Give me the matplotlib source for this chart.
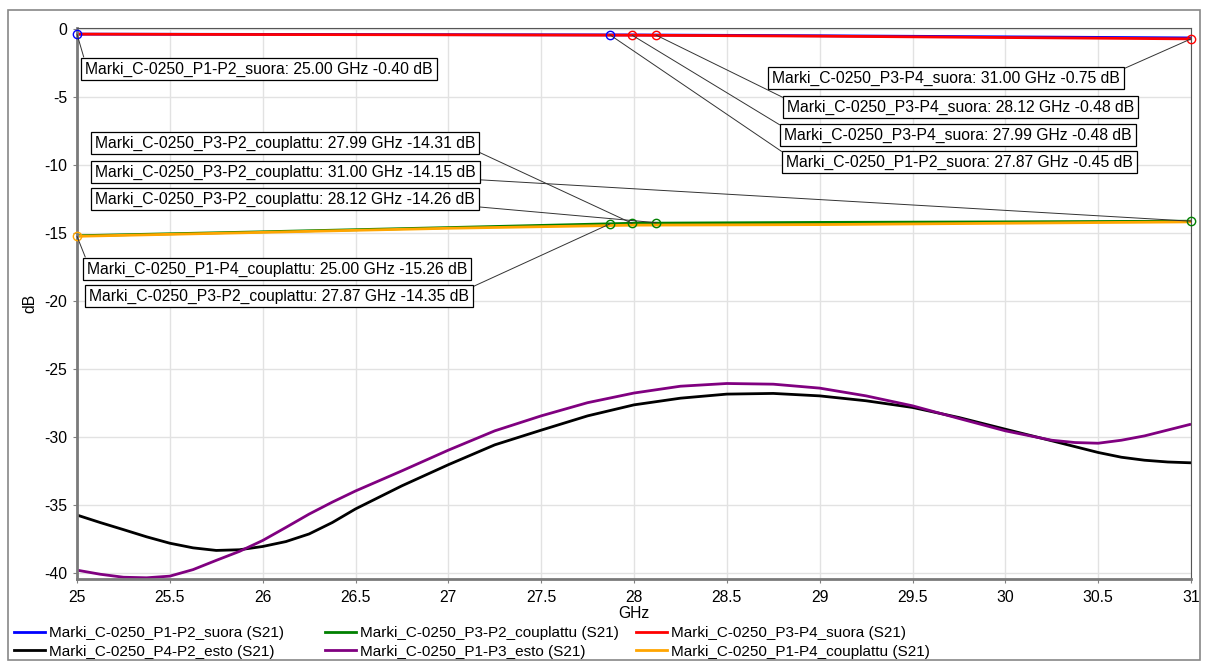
import matplotlib
matplotlib.use("Agg")
import matplotlib.pyplot as plt
from matplotlib.patches import Rectangle
from matplotlib.lines import Line2D

plt.rcParams['font.family'] = ['Liberation Sans', 'DejaVu Sans']
plt.rcParams['font.size'] = 11
plt.rcParams['axes.unicode_minus'] = False

# measured S21 traces (GHz, dB)
freq_flat = [25, 26, 27, 28, 29, 30, 31]
p1p2_suora = [-0.40, -0.42, -0.44, -0.46, -0.52, -0.60, -0.68]
p3p4_suora = [-0.40, -0.43, -0.45, -0.48, -0.55, -0.65, -0.75]
p3p2_couplattu = [-15.22, -14.93, -14.62, -14.30, -14.24, -14.20, -14.15]
p1p4_couplattu = [-15.26, -14.97, -14.67, -14.44, -14.40, -14.30, -14.20]

freq_p4p2 = [25.0, 25.125, 25.25, 25.375, 25.5, 25.625, 25.75, 25.875, 26.0,
             26.125, 26.25, 26.375, 26.5, 26.75, 27.0, 27.25, 27.5, 27.75,
             28.0, 28.25, 28.5, 28.75, 29.0, 29.25, 29.5, 29.75, 30.0, 30.25,
             30.5, 30.625, 30.75, 30.875, 31.0]
p4p2_esto = [-35.75, -36.30, -36.82, -37.35, -37.82, -38.16, -38.35, -38.30,
             -38.06, -37.70, -37.14, -36.30, -35.30, -33.60, -32.05, -30.59,
             -29.51, -28.46, -27.65, -27.16, -26.86, -26.81, -26.99, -27.35,
             -27.84, -28.58, -29.44, -30.29, -31.15, -31.50, -31.72, -31.85,
             -31.91]

freq_p1p3 = [25.0, 25.125, 25.25, 25.375, 25.5, 25.625, 25.75, 25.875, 26.0,
             26.125, 26.25, 26.375, 26.5, 26.75, 27.0, 27.25, 27.5, 27.75,
             28.0, 28.25, 28.5, 28.75, 29.0, 29.25, 29.5, 29.75, 30.0, 30.25,
             30.375, 30.5, 30.625, 30.75, 30.875, 31.0]
p1p3_esto = [-39.80, -40.10, -40.32, -40.36, -40.24, -39.76, -39.08, -38.42,
             -37.62, -36.66, -35.68, -34.80, -33.98, -32.50, -30.98, -29.56,
             -28.46, -27.49, -26.78, -26.28, -26.08, -26.13, -26.42, -26.99,
             -27.72, -28.65, -29.56, -30.25, -30.42, -30.47, -30.25, -29.93,
             -29.50, -29.07]

names = ["Marki_C-0250_P1-P2_suora", "Marki_C-0250_P3-P2_couplattu",
         "Marki_C-0250_P3-P4_suora", "Marki_C-0250_P4-P2_esto",
         "Marki_C-0250_P1-P3_esto", "Marki_C-0250_P1-P4_couplattu"]
colors = ["#0000ff", "#008000", "#ff0000", "#000000", "#800080", "#ffa500"]
series_x = [freq_flat, freq_flat, freq_flat, freq_p4p2, freq_p1p3, freq_flat]
series_y = [p1p2_suora, p3p2_couplattu, p3p4_suora, p4p2_esto, p1p3_esto,
            p1p4_couplattu]

# markers: (series index, GHz, dB)
marker_series = [0, 2, 2, 2, 0, 1, 1, 1, 5, 1]
marker_freq = [25.00, 31.00, 28.12, 27.99, 27.87, 27.99, 31.00, 28.12, 25.00, 27.87]
marker_db = [-0.40, -0.75, -0.48, -0.48, -0.45, -14.31, -14.15, -14.26, -15.26, -14.35]

# label anchors in image pixels (left, middle) and which box corner the leader uses
label_pos = [(85, 69), (772, 78), (787, 107), (784, 135), (786, 162),
             (95, 143), (95, 172), (95, 199), (87, 269), (89, 296)]
label_corner = [(0, 1), (1, 1), (0, 1), (0, 1), (0, 1),
                (1, 0), (1, 0), (1, 0), (0, 1), (1, 1)]

W, H = 1209, 669
FS = 11.3
fig = plt.figure(figsize=(W / 100, H / 100), dpi=100)
ax = fig.add_axes([77 / W, 1 - 579 / H, (1191 - 77) / W, (579 - 28) / H])

for xs, ys, c in zip(series_x, series_y, colors):
    ax.plot(xs, ys, color=c, lw=2, solid_capstyle='butt')

for si, f, v in zip(marker_series, marker_freq, marker_db):
    ax.plot(f, v, 'o', ms=6, mfc='none', mec=colors[si], mew=1, clip_on=False, zorder=5)

for i, (si, f, v) in enumerate(zip(marker_series, marker_freq, marker_db)):
    lx, ly = label_pos[i]
    ax.annotate(f"{names[si]}: {f:.2f} GHz {v:.2f} dB", xy=(f, v),
                xytext=(lx, H - ly), textcoords='figure pixels',
                ha='left', va='center', fontsize=FS,
                bbox=dict(boxstyle='square,pad=0.25', fc='white', ec='black', lw=0.9),
                arrowprops=dict(arrowstyle='-', color='#333333', lw=0.7,
                                relpos=label_corner[i], shrinkA=0, shrinkB=0),
                zorder=6, annotation_clip=False)

ax.set_xlim(25, 31)
ax.set_ylim(-40.45, 0.05)
ax.set_xticks([25, 25.5, 26, 26.5, 27, 27.5, 28, 28.5, 29, 29.5, 30, 30.5, 31])
ax.set_xticklabels(["25", "25.5", "26", "26.5", "27", "27.5", "28", "28.5",
                    "29", "29.5", "30", "30.5", "31"])
ax.set_yticks(range(-40, 1, 5))
ax.grid(True, color='#e2e2e2', lw=1)
ax.set_axisbelow(True)
ax.tick_params(direction='out', length=3, color='#808080', labelsize=FS)
ax.tick_params(axis='x', pad=5)
ax.tick_params(axis='y', pad=4)
for side in ['left', 'bottom']:
    ax.spines[side].set_color('#7a7a7a')
    ax.spines[side].set_linewidth(2)
for side in ['top', 'right']:
    ax.spines[side].set_color('#555555')
    ax.spines[side].set_linewidth(0.8)

ax.set_xlabel("GHz", fontsize=FS, labelpad=1)
ax.set_ylabel("dB", fontsize=FS, labelpad=5)

# legend: three fixed-width columns of two entries
col_x = [14, 325, 636]
order = [[0, 3], [1, 4], [2, 5]]
for cx, idx in zip(col_x, order):
    handles = [Line2D([], [], color=colors[k], lw=2) for k in idx]
    labels = [names[k] + " (S21)" for k in idx]
    fig.legend(handles, labels, loc='upper left',
               bbox_to_anchor=(cx / W, 1 - 626 / H), frameon=False,
               fontsize=11, handlelength=2.0, handletextpad=0.3,
               labelspacing=0.3, borderpad=0, borderaxespad=0)

fig.patches.append(Rectangle((8 / W, 1 - 660 / H), (1200 - 8) / W, (660 - 10) / H,
                             transform=fig.transFigure, fill=False,
                             ec='#888888', lw=1.2))

fig.savefig("out.png", dpi=100)
